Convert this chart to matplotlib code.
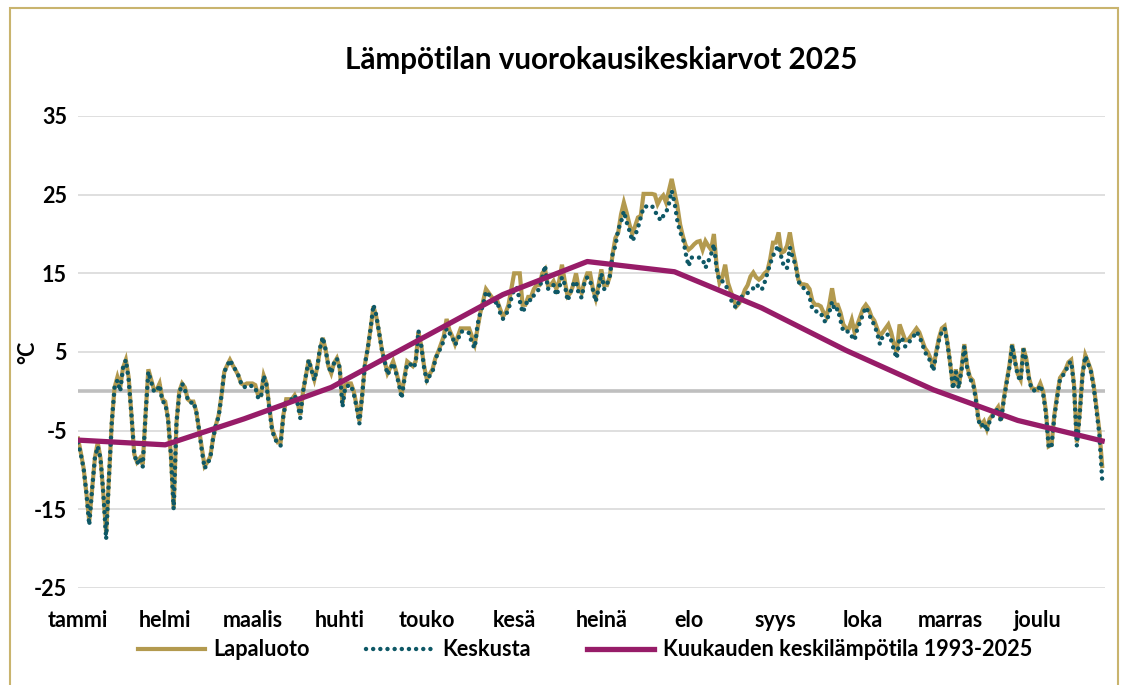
import numpy as np
import matplotlib.pyplot as plt
from matplotlib.patches import Rectangle
from matplotlib.lines import Line2D

# Month labels on the category axis (every 31st day)
months = ["tammi", "helmi", "maalis", "huhti", "touko", "kesä",
          "heinä", "elo", "syys", "loka", "marras", "joulu"]
month_ticks = [0, 31, 62, 93, 124, 155, 186, 217, 248, 279, 310, 341]

# Daily mean temperature 2025, Keskusta
keskusta = [
    -6.5, -8.0, -9.8, -13.0, -17.0, -12.5, -8.5, -7.0, -8.5, -13.0,
    -18.8, -11.0, -4.0, 0.5, 1.4, 0.0, 3.0, 4.0, 1.5, -3.0,
    -8.0, -9.2, -8.5, -9.6, -3.0, 2.5, 1.2, 0.0, 0.0, 0.8,
    -1.3, -1.5, -3.5, -8.0, -15.0, -4.0, -0.3, 1.0, 0.2, -1.0,
    -1.5, -1.3, -2.5, -4.8, -7.5, -9.8, -9.2, -8.5, -6.0, -4.3,
    -3.2, -0.5, 2.5, 3.2, 4.0, 3.3, 2.7, 2.0, 1.0, 0.5,
    0.7, 0.8, 0.6, 0.5, -0.8, -0.9, 2.0, 0.8, -2.2, -5.0,
    -6.0, -6.7, -6.9, -3.0, -1.3, -1.2, -1.0, -0.5, -1.5, -3.4,
    0.0, 2.0, 4.0, 2.7, 1.4, 3.0, 5.5, 6.9, 5.3, 3.2,
    2.3, 3.6, 4.2, 3.0, -2.0, 0.6, 0.7, 0.8, -0.3, -2.0,
    -4.1, -0.5, 3.5, 5.5, 8.0, 11.0, 9.7, 7.5, 5.3, 3.8,
    2.1, 2.8, 3.6, 2.4, 1.0, -0.9, 1.5, 3.5, 3.5, 3.0,
    3.5, 7.7, 5.8, 3.0, 1.2, 2.0, 2.5, 4.0, 5.0, 5.5,
    6.5, 8.0, 7.4, 7.0, 5.9, 6.5, 7.6, 7.6, 7.6, 7.4,
    6.1, 5.5, 8.5, 10.0, 11.0, 12.7, 12.3, 11.8, 11.0, 11.5,
    10.0, 9.2, 9.7, 10.4, 11.8, 13.0, 13.2, 11.5, 10.0, 10.8,
    11.8, 11.5, 12.2, 12.7, 13.0, 14.5, 16.0, 13.0, 13.5, 13.5,
    12.2, 13.1, 14.5, 13.6, 11.5, 12.5, 13.6, 14.0, 12.3, 11.9,
    13.8, 14.5, 14.0, 12.9, 11.4, 13.0, 15.0, 13.0, 13.6, 14.6,
    17.4, 18.5, 20.6, 21.5, 22.9, 21.5, 20.4, 19.1, 19.8, 20.8,
    22.1, 23.4, 23.5, 23.6, 23.6, 22.8, 22.5, 21.7, 22.3, 22.7,
    23.8, 25.5, 24.0, 21.7, 20.2, 19.5, 17.5, 15.9, 17.0, 17.0,
    17.0, 17.0, 16.8, 15.7, 16.5, 17.4, 18.7, 15.5, 14.0, 14.0,
    13.6, 12.9, 11.7, 11.0, 10.6, 11.5, 12.1, 12.3, 12.5, 12.9,
    13.1, 13.6, 13.3, 12.9, 13.8, 15.0, 16.2, 17.2, 18.0, 18.5,
    17.0, 15.7, 15.7, 18.3, 17.0, 16.1, 14.0, 13.4, 13.1, 12.9,
    12.0, 10.4, 10.2, 10.1, 10.0, 9.0, 8.8, 10.0, 11.4, 10.2,
    10.5, 9.0, 7.6, 7.6, 7.6, 7.0, 6.5, 8.0, 8.8, 9.8,
    10.7, 10.0, 9.0, 8.5, 7.4, 6.0, 7.0, 7.2, 7.2, 6.5,
    5.2, 4.2, 6.8, 6.6, 5.7, 6.0, 6.6, 7.0, 7.6, 7.0,
    6.1, 5.0, 4.4, 3.8, 2.6, 4.8, 6.5, 7.6, 8.0, 6.0,
    3.5, 0.3, 2.5, 0.4, 2.7, 5.7, 3.0, 1.5, 1.2, -0.8,
    -3.7, -4.5, -4.0, -5.1, -3.8, -3.2, -2.7, -2.1, -3.9, -1.2,
    1.0, 3.0, 5.9, 3.8, 2.0, 1.3, 5.3, 4.0, 1.5, 0.2,
    0.1, 0.0, 0.8, -0.3, -2.8, -7.2, -7.0, -3.2, -0.8, 1.5,
    2.0, 2.5, 3.5, 3.8, 0.6, -6.9, -3.0, 2.0, 4.5, 3.5,
    2.5, 0.5, -2.5, -5.5, -11.3,
]

# Daily mean temperature 2025, Lapaluoto
lapaluoto = [
    -6.0, -7.8, -9.8, -13.0, -16.5, -12.5, -8.5, -6.5, -8.5, -13.0,
    -18.0, -11.0, -4.0, 0.5, 1.8, 0.5, 3.0, 4.0, 1.8, -3.0,
    -8.0, -9.0, -8.5, -9.3, -3.0, 2.8, 1.5, 0.2, 0.2, 1.0,
    -1.0, -1.3, -3.5, -8.0, -14.8, -4.0, 0.0, 1.0, 0.5, -1.0,
    -1.3, -1.3, -2.5, -4.8, -7.2, -9.5, -9.0, -8.3, -6.0, -4.3,
    -3.0, -0.5, 2.5, 3.3, 4.0, 3.3, 2.7, 2.0, 1.0, 0.8,
    1.0, 1.0, 1.0, 0.8, -0.5, -0.5, 2.0, 1.0, -2.0, -4.8,
    -5.8, -6.5, -6.5, -3.0, -1.0, -1.0, -1.0, -0.5, -1.3, -3.0,
    0.0, 2.0, 4.0, 2.7, 1.5, 3.0, 5.3, 6.8, 5.3, 3.2,
    2.3, 3.6, 4.2, 3.0, -1.5, 0.8, 1.0, 1.0, 0.0, -1.8,
    -3.8, -0.5, 3.5, 5.5, 8.0, 10.8, 9.5, 7.5, 5.3, 3.8,
    2.3, 3.0, 3.8, 2.6, 1.2, -0.5, 1.8, 3.8, 3.5, 3.2,
    3.8, 7.5, 5.8, 3.2, 1.5, 2.2, 2.8, 4.2, 5.0, 6.0,
    7.0, 9.2, 7.8, 7.0, 6.0, 7.0, 8.0, 8.0, 8.0, 8.0,
    7.0, 6.0, 8.0, 10.0, 11.5, 13.0, 12.5, 12.0, 11.5, 11.5,
    10.5, 9.5, 10.0, 11.0, 13.0, 15.0, 15.0, 15.0, 11.0, 11.0,
    12.0, 12.0, 13.0, 13.5, 13.5, 15.0, 15.5, 13.5, 13.5, 14.0,
    13.0, 14.0, 16.1, 14.0, 12.1, 12.5, 13.5, 15.0, 13.0, 12.5,
    14.0, 15.0, 15.0, 13.0, 11.8, 13.5, 15.5, 13.5, 13.5, 14.6,
    17.4, 19.5, 20.2, 22.5, 24.0, 22.7, 21.2, 20.0, 21.0, 22.1,
    22.3, 25.1, 25.1, 25.1, 25.1, 25.0, 23.8, 24.5, 24.9, 24.0,
    25.5, 27.0, 25.3, 23.6, 21.2, 19.7, 18.5, 18.0, 18.3, 18.7,
    19.0, 19.1, 18.0, 19.1, 18.5, 18.0, 20.0, 15.9, 13.8, 14.5,
    16.1, 13.8, 12.7, 11.7, 10.8, 11.2, 11.9, 12.9, 13.5, 14.6,
    15.1, 14.5, 14.2, 14.5, 15.0, 15.3, 16.8, 18.9, 18.9, 20.2,
    17.6, 17.8, 18.5, 20.2, 18.0, 16.3, 14.2, 13.6, 13.6, 13.5,
    13.0, 11.5, 11.0, 11.0, 10.8, 10.0, 9.5, 11.0, 13.1, 11.0,
    11.0, 10.0, 8.5, 8.0, 8.0, 9.1, 7.5, 8.5, 9.5, 10.5,
    11.0, 10.5, 9.5, 9.0, 8.0, 7.0, 7.5, 8.0, 8.5, 7.5,
    6.0, 5.0, 8.5, 7.5, 6.5, 6.5, 7.0, 7.5, 8.0, 7.5,
    6.5, 5.5, 5.0, 4.2, 3.0, 5.0, 6.8, 8.0, 8.3, 6.2,
    3.5, 0.5, 2.8, 0.6, 2.9, 6.0, 3.2, 1.8, 1.4, -0.5,
    -3.5, -4.3, -3.8, -4.8, -3.5, -3.0, -2.5, -2.0, -3.7, -1.0,
    1.2, 3.2, 6.0, 3.9, 2.2, 1.5, 5.5, 4.2, 1.7, 0.4,
    0.3, 0.2, 1.0, 0.0, -2.5, -7.0, -6.8, -3.0, -0.5, 1.7,
    2.2, 2.8, 3.7, 4.0, 0.8, -6.5, -2.8, 2.2, 4.6, 3.7,
    2.7, 0.7, -2.2, -5.0, -9.5,
]

# Monthly mean 1993-2025, placed at month starts
avg_days = [0, 31, 59, 90, 120, 151, 181, 212, 243, 273, 304, 334, 364]
avg_temp = [-6.2, -6.8, -3.5, 0.5, 6.3, 12.3, 16.5, 15.2, 10.6, 5.2, 0.2, -3.7, -6.3]

GOLD = "#B39A4F"
TEAL = "#0E5866"
PURPLE = "#971C68"

plt.rcParams["font.family"] = ["Lato", "DejaVu Sans"]
plt.rcParams["font.weight"] = "bold"
plt.rcParams["axes.unicode_minus"] = False

W, H = 1132, 685
fig = plt.figure(figsize=(W / 100, H / 100), dpi=100)

# chart border
fig.patches.append(Rectangle((10 / W, -0.05), (1118 - 10) / W, 1.05 - 8 / H,
                             transform=fig.transFigure, fill=False,
                             edgecolor="#C9B46E", linewidth=1.5))

ax = fig.add_axes([78 / W, 1 - 588 / H, (1105 - 78) / W, (588 - 116) / H])

days = np.arange(len(keskusta))
ax.plot(days, lapaluoto, color=GOLD, linewidth=3, zorder=3,
        solid_joinstyle="miter")
ax.plot(days, keskusta, color=TEAL, linewidth=3.2, zorder=4,
        linestyle=(0, (0.01, 1.6)), dash_capstyle="round")
ax.plot(avg_days, avg_temp, color=PURPLE, linewidth=3.8, zorder=5)

ax.axhline(0, color="#BFBFBF", linewidth=2.6, zorder=2)

ax.set_xlim(0, 365)
ax.set_ylim(-25, 35)
ax.set_yticks(range(-25, 36, 10))
ax.yaxis.grid(True, color="#D9D9D9", linewidth=1.2)
ax.set_axisbelow(True)
for s in ax.spines.values():
    s.set_visible(False)

ax.set_xticks(month_ticks)
ax.set_xticklabels(months)
ax.tick_params(axis="both", length=0, labelsize=15.5)
ax.tick_params(axis="x", pad=16)
ax.tick_params(axis="y", pad=8)

fig.text(28 / W, 1 - 352 / H, "°C", rotation=90, ha="center", va="center",
         fontsize=15.5, fontweight="bold")

fig.text(601 / W, 1 - 60 / H, "Lämpötilan vuorokausikeskiarvot 2025",
         ha="center", va="center", fontsize=21.3, fontweight="bold")

handles = [
    Line2D([], [], color=GOLD, linewidth=3),
    Line2D([], [], color=TEAL, linewidth=3.2, linestyle=(0, (0.01, 1.6)),
           dash_capstyle="round"),
    Line2D([], [], color=PURPLE, linewidth=3.8),
]
labels = ["Lapaluoto", "Keskusta", "Kuukauden keskilämpötila 1993-2025"]
fig.legend(handles, labels, loc="center", bbox_to_anchor=(585 / W, 1 - 650 / H),
           ncol=3, frameon=False, fontsize=15.6, handlelength=3.1,
           handletextpad=0.4, columnspacing=2.6)

fig.savefig("out.png", dpi=100)
